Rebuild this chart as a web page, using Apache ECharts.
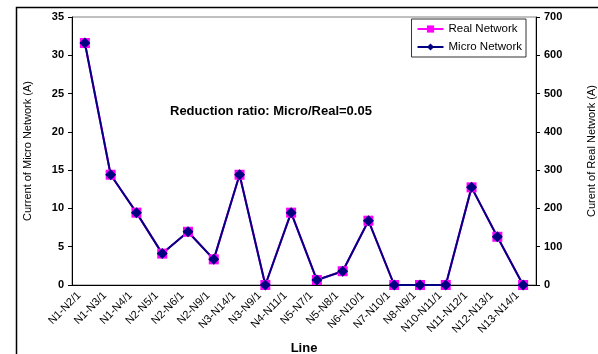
<!DOCTYPE html>
<html>
<head>
<meta charset="utf-8">
<script src="https://cdn.jsdelivr.net/npm/echarts@6/dist/echarts.min.js"></script>
<style>
  html, body { margin: 0; padding: 0; background: #fff; }
  #chart { width: 598px; height: 354px; }
</style>
</head>
<body>
<div id="chart"></div>
<script>
// lines between nodes
var categories = ['N1-N2/1', 'N1-N3/1', 'N1-N4/1', 'N2-N5/1', 'N2-N6/1', 'N2-N9/1',
  'N3-N14/1', 'N3-N9/1', 'N4-N11/1', 'N5-N7/1', 'N5-N8/1', 'N6-N10/1',
  'N7-N10/1', 'N8-N9/1', 'N10-N11/1', 'N11-N12/1', 'N12-N13/1', 'N13-N14/1'];
// current on the micro network (A), left axis
var microValues = [31.6, 14.4, 9.45, 4.1, 6.95, 3.35, 14.4, 0, 9.45, 0.65, 1.8, 8.4, 0, 0, 0, 12.75, 6.3, 0];
// current on the real network (A), right axis
var realValues = [632, 288, 189, 82, 139, 67, 288, 0, 189, 13, 36, 168, 0, 0, 0, 255, 126, 0];
var leftTicks = { min: 0, max: 35, interval: 5 };
var rightTicks = { min: 0, max: 700, interval: 100 };

var font = 'Liberation Sans, Arial, sans-serif';
var chart = echarts.init(document.getElementById('chart'));

chart.setOption({
  animation: false,
  textStyle: { fontFamily: font },
  grid: {
    left: 72, right: 62, top: 17, bottom: 69,
    outerBoundsMode: 'none', containLabel: false,
    show: true, borderColor: '#808080', borderWidth: 1
  },
  legend: {
    right: 72, top: 19,
    orient: 'vertical',
    backgroundColor: '#fff',
    borderColor: '#333', borderWidth: 1,
    padding: [4, 4, 4, 5],
    itemGap: 6,
    itemWidth: 26, itemHeight: 9,
    textStyle: { fontSize: 11.5, color: '#000', fontFamily: font },
    data: ['Real Network', 'Micro Network']
  },
  xAxis: {
    type: 'category',
    data: categories,
    name: 'Line',
    nameLocation: 'middle',
    nameGap: 55,
    nameTextStyle: { fontSize: 13, fontWeight: 'bold', color: '#000' },
    axisLine: { lineStyle: { color: '#000', width: 1 } },
    axisTick: { length: 4, lineStyle: { color: '#000' } },
    axisLabel: { rotate: 45, fontSize: 11, color: '#000', margin: 3, padding: [0, 8, 0, 0], interval: 0 }
  },
  yAxis: [{
    type: 'value',
    min: leftTicks.min, max: leftTicks.max, interval: leftTicks.interval,
    name: 'Current of Micro Network (A)',
    nameLocation: 'middle',
    nameGap: 39,
    nameTextStyle: { fontSize: 11, color: '#000' },
    axisLine: { show: true, lineStyle: { color: '#000' } },
    axisTick: { show: true, length: 4, lineStyle: { color: '#000' } },
    axisLabel: { fontSize: 11, fontWeight: 'bold', color: '#000', margin: 8 },
    splitLine: { show: false }
  }, {
    type: 'value',
    min: rightTicks.min, max: rightTicks.max, interval: rightTicks.interval,
    name: 'Curent of Real Network (A)',
    nameLocation: 'middle',
    nameGap: 50,
    nameRotate: 90,
    nameTextStyle: { fontSize: 11, color: '#000' },
    axisLine: { show: true, lineStyle: { color: '#000' } },
    axisTick: { show: true, length: 4, lineStyle: { color: '#000' } },
    axisLabel: { fontSize: 11, fontWeight: 'bold', color: '#000', margin: 8 },
    splitLine: { show: false }
  }],
  graphic: [{
    type: 'rect',
    silent: true,
    shape: { x: 16.5, y: 7.5, width: 620, height: 400 },
    style: { fill: 'none', stroke: '#000', lineWidth: 1.5 }
  }, {
    type: 'text',
    left: 170, top: 105,
    style: { text: 'Reduction ratio: Micro/Real=0.05', font: 'bold 13px ' + font, fill: '#000' }
  }],
  series: [{
    name: 'Real Network',
    type: 'line',
    yAxisIndex: 1,
    data: realValues,
    symbol: 'rect',
    symbolSize: 10,
    itemStyle: { color: '#FF00FF' },
    lineStyle: { color: '#FF00FF', width: 2 }
  }, {
    name: 'Micro Network',
    type: 'line',
    yAxisIndex: 0,
    data: microValues,
    symbol: 'diamond',
    symbolSize: 11,
    itemStyle: { color: '#000080' },
    lineStyle: { color: '#000080', width: 2 }
  }]
});
</script>
</body>
</html>
